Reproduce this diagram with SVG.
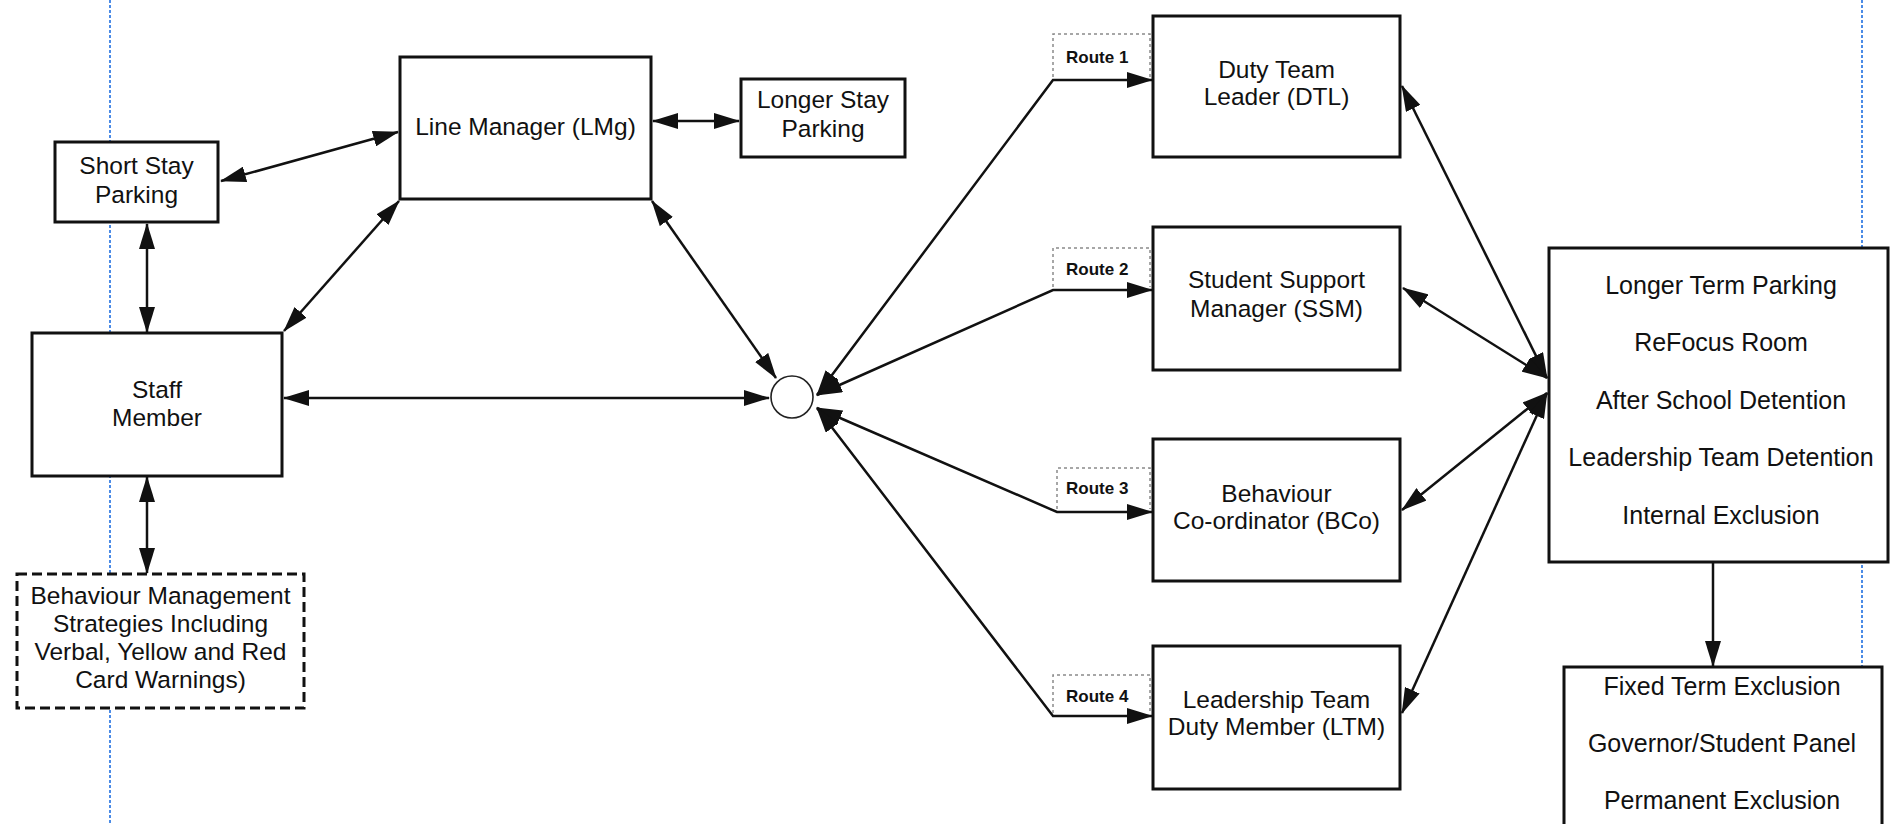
<svg xmlns="http://www.w3.org/2000/svg" width="1890" height="824" viewBox="0 0 1890 824">
<style>
.box{fill:#fff;stroke:#111;stroke-width:3}
.dbox{fill:#fff;stroke:#111;stroke-width:3;stroke-dasharray:10 5}
.route{fill:none;stroke:#8a8a8a;stroke-width:1.5;stroke-dasharray:3 3}
.guide{fill:none;stroke:#1f6fe0;stroke-width:1.6;stroke-dasharray:3 2}
.t{font-family:"Liberation Sans",Arial,sans-serif;font-size:24.5px;fill:#111;text-anchor:middle}
.tl{font-family:"Liberation Sans",Arial,sans-serif;font-size:25px;fill:#111;text-anchor:middle}
.rt{font-family:"Liberation Sans",Arial,sans-serif;font-size:17px;font-weight:bold;fill:#111}
.c{fill:none;stroke:#111;stroke-width:2.5}
.j{fill:#fff;stroke:#222;stroke-width:1.6}
</style>
<defs>
<marker id="ah" markerUnits="userSpaceOnUse" viewBox="0 0 26 16" markerWidth="26" markerHeight="16" refX="25" refY="8" orient="auto-start-reverse">
<path d="M0,0 L26,8 L0,16 z" fill="#111"/>
</marker>
</defs>
<rect width="1890" height="824" fill="#fff"/>
<g id="guides">
<line class="guide" x1="110" y1="0" x2="110" y2="824"/>
<line class="guide" x1="1862" y1="0" x2="1862" y2="824"/>
</g>
<g id="short-stay">
<rect class="box" x="55" y="142" width="163" height="80"/>
<text class="t" x="136.5" y="174">Short Stay</text>
<text class="t" x="136.5" y="203">Parking</text>
</g>
<g id="line-manager">
<rect class="box" x="400" y="57" width="251" height="142"/>
<text class="t" x="525.5" y="135">Line Manager (LMg)</text>
</g>
<g id="longer-stay">
<rect class="box" x="741" y="79" width="164" height="78"/>
<text class="t" x="823" y="108">Longer Stay</text>
<text class="t" x="823" y="137">Parking</text>
</g>
<g id="staff-member">
<rect class="box" x="32" y="333" width="250" height="143"/>
<text class="t" x="157" y="398">Staff</text>
<text class="t" x="157" y="426">Member</text>
</g>
<g id="behaviour-strategies">
<rect class="dbox" x="17" y="574" width="287" height="134"/>
<text class="t" x="160.5" y="604">Behaviour Management</text>
<text class="t" x="160.5" y="632">Strategies Including</text>
<text class="t" x="160.5" y="660">Verbal, Yellow and Red</text>
<text class="t" x="160.5" y="688">Card Warnings)</text>
</g>
<g id="junction">
<circle class="j" cx="792" cy="397" r="21"/>
</g>
<g id="dtl">
<rect class="box" x="1153" y="16" width="247" height="141"/>
<text class="t" x="1276.5" y="78">Duty Team</text>
<text class="t" x="1276.5" y="105">Leader (DTL)</text>
</g>
<g id="ssm">
<rect class="box" x="1153" y="227" width="247" height="143"/>
<text class="t" x="1276.5" y="288">Student Support</text>
<text class="t" x="1276.5" y="317">Manager (SSM)</text>
</g>
<g id="bco">
<rect class="box" x="1153" y="439" width="247" height="142"/>
<text class="t" x="1276.5" y="502">Behaviour</text>
<text class="t" x="1276.5" y="529">Co-ordinator (BCo)</text>
</g>
<g id="ltm">
<rect class="box" x="1153" y="646" width="247" height="143"/>
<text class="t" x="1276.5" y="708">Leadership Team</text>
<text class="t" x="1276.5" y="735">Duty Member (LTM)</text>
</g>
<g id="sanctions">
<rect class="box" x="1549" y="248" width="339" height="314"/>
<text class="tl" x="1721" y="294">Longer Term Parking</text>
<text class="tl" x="1721" y="351">ReFocus Room</text>
<text class="tl" x="1721" y="409">After School Detention</text>
<text class="tl" x="1721" y="466">Leadership Team Detention</text>
<text class="tl" x="1721" y="524">Internal Exclusion</text>
</g>
<g id="exclusions">
<rect class="box" x="1564" y="667" width="318" height="200"/>
<text class="tl" x="1722" y="695">Fixed Term Exclusion</text>
<text class="tl" x="1722" y="752">Governor/Student Panel</text>
<text class="tl" x="1722" y="809">Permanent Exclusion</text>
</g>
<g id="connectors">
<line class="c" x1="221" y1="181" x2="398" y2="132" marker-start="url(#ah)" marker-end="url(#ah)"/>
<line class="c" x1="653" y1="121" x2="739" y2="121" marker-start="url(#ah)" marker-end="url(#ah)"/>
<line class="c" x1="147" y1="224" x2="147" y2="332" marker-start="url(#ah)" marker-end="url(#ah)"/>
<line class="c" x1="284" y1="331" x2="399" y2="201" marker-start="url(#ah)" marker-end="url(#ah)"/>
<line class="c" x1="652" y1="201" x2="776" y2="378" marker-start="url(#ah)" marker-end="url(#ah)"/>
<line class="c" x1="284" y1="398" x2="769" y2="398" marker-start="url(#ah)" marker-end="url(#ah)"/>
<line class="c" x1="147" y1="477" x2="147" y2="573" marker-start="url(#ah)" marker-end="url(#ah)"/>
<polyline class="c" points="817,395 1053,80 1152,80" marker-start="url(#ah)" marker-end="url(#ah)"/>
<polyline class="c" points="817,395 1053,290 1152,290" marker-start="url(#ah)" marker-end="url(#ah)"/>
<polyline class="c" points="817,408 1057,512 1152,512" marker-start="url(#ah)" marker-end="url(#ah)"/>
<polyline class="c" points="817,408 1053,716 1152,716" marker-start="url(#ah)" marker-end="url(#ah)"/>
<line class="c" x1="1402" y1="86" x2="1547" y2="378" marker-start="url(#ah)" marker-end="url(#ah)"/>
<line class="c" x1="1403" y1="288" x2="1547" y2="378" marker-start="url(#ah)" marker-end="url(#ah)"/>
<line class="c" x1="1402" y1="510" x2="1547" y2="393" marker-start="url(#ah)" marker-end="url(#ah)"/>
<line class="c" x1="1402" y1="713" x2="1547" y2="393" marker-start="url(#ah)" marker-end="url(#ah)"/>
<line class="c" x1="1713" y1="563" x2="1713" y2="666" marker-end="url(#ah)"/>
<g id="route-labels">
<path class="route" d="M1053,77 V34 H1150 V77"/>
<text class="rt" x="1066" y="63">Route 1</text>
<path class="route" d="M1053,287 V248 H1150 V287"/>
<text class="rt" x="1066" y="275">Route 2</text>
<path class="route" d="M1057,509 V468 H1150 V509"/>
<text class="rt" x="1066" y="494">Route 3</text>
<path class="route" d="M1053,713 V675 H1150 V713"/>
<text class="rt" x="1066" y="702">Route 4</text>
</g>
</g>
</svg>
